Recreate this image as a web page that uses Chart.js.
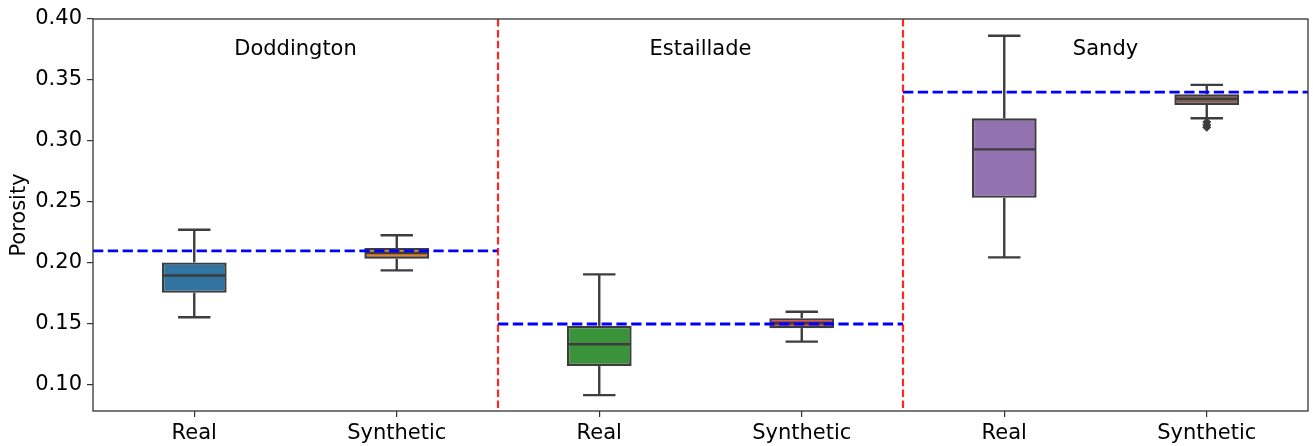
<!DOCTYPE html>
<html>
<head>
<meta charset="utf-8">
<script src="https://cdn.jsdelivr.net/npm/chart.js@4.4.1/dist/chart.umd.min.js"></script>
<style>
  html, body { margin: 0; padding: 0; background: #ffffff; }
  #wrap { width: 1313px; height: 446px; }
</style>
</head>
<body>
<div id="wrap"><canvas id="chart" width="1313" height="446"></canvas></div>
<script>
// Porosity distributions per rock sample, real vs synthetic
const categories = ['Real', 'Synthetic', 'Real', 'Synthetic', 'Real', 'Synthetic'];
const groups = ['Doddington', 'Estaillade', 'Sandy'];

// Five-number summaries for each box
const whiskerLow  = [0.1556, 0.1940, 0.0917, 0.1356, 0.2046, 0.3186];
const q1          = [0.1756, 0.2035, 0.1156, 0.1466, 0.2534, 0.3296];
const median      = [0.1898, 0.2082, 0.1334, 0.1507, 0.2931, 0.3345];
const q3          = [0.2005, 0.2123, 0.1485, 0.1548, 0.3186, 0.3383];
const whiskerHigh = [0.2273, 0.2227, 0.1907, 0.1600, 0.3863, 0.3460];

// Outliers below the lower whisker of Sandy / Synthetic
const sandySyntheticFliers = [0.3155, 0.3132, 0.3112];
const flierIndex = 5;

// Reference porosity of each sample
const referencePorosity = [0.21, 0.15, 0.34];

const yTicks = [0.10, 0.15, 0.20, 0.25, 0.30, 0.35, 0.40];

const boxColors = ['#3274a1', '#e1812c', '#3a923a', '#c03d3e', '#9372b2', '#845b53'];
const edgeColor = '#3d3d3d';
const FONT = 'DejaVu Sans';

const boxPlotExtras = {
  id: 'boxPlotExtras',
  afterDatasetsDraw(chart) {
    const { ctx, chartArea: a, scales: { x, y } } = chart;
    const meta = chart.getDatasetMeta(0);
    const seg = (x0, y0, x1, y1) => { ctx.beginPath(); ctx.moveTo(x0, y0); ctx.lineTo(x1, y1); ctx.stroke(); };

    ctx.save();
    ctx.strokeStyle = edgeColor;
    ctx.lineWidth = 2.4;
    ctx.lineCap = 'butt';
    meta.data.forEach((bar, i) => {
      const cx = bar.x;
      const half = bar.width / 2;
      const cap = half / 2;
      const yLow = y.getPixelForValue(whiskerLow[i]);
      const yHigh = y.getPixelForValue(whiskerHigh[i]);
      const yQ1 = y.getPixelForValue(q1[i]);
      const yQ3 = y.getPixelForValue(q3[i]);
      const yMed = y.getPixelForValue(median[i]);
      seg(cx, yQ1, cx, yLow);
      seg(cx - cap, yLow, cx + cap, yLow);
      seg(cx, yQ3, cx, yHigh);
      seg(cx - cap, yHigh, cx + cap, yHigh);
      seg(cx - half + 1, yMed, cx + half - 1, yMed);
    });

    // boundaries between samples
    const bounds = [a.left];
    for (let k = 1; k < groups.length; k++) {
      bounds.push((x.getPixelForValue(2 * k - 1) + x.getPixelForValue(2 * k)) / 2);
    }
    bounds.push(a.right);

    // reference porosity lines
    ctx.strokeStyle = '#0000ff';
    ctx.lineWidth = 2.8;
    ctx.setLineDash([10.3, 4.5]);
    referencePorosity.forEach((v, k) => {
      const yy = y.getPixelForValue(v);
      seg(bounds[k], yy, bounds[k + 1], yy);
    });

    // sample separators
    ctx.strokeStyle = 'rgba(255,0,0,0.85)';
    ctx.lineWidth = 2.2;
    ctx.setLineDash([7.5, 3.4]);
    for (let k = 1; k < groups.length; k++) {
      seg(bounds[k], a.top, bounds[k], a.bottom);
    }
    ctx.setLineDash([]);

    // sample names
    ctx.fillStyle = '#000000';
    ctx.font = `21px "${FONT}"`;
    ctx.textAlign = 'center';
    ctx.textBaseline = 'middle';
    groups.forEach((g, k) => {
      const cx = (x.getPixelForValue(2 * k) + x.getPixelForValue(2 * k + 1)) / 2;
      ctx.fillText(g, cx, a.top + 31);
    });
    ctx.restore();
  },
  afterDraw(chart) {
    const { ctx, chartArea: a } = chart;
    ctx.save();
    ctx.strokeStyle = '#333333';
    ctx.lineWidth = 1.3;
    ctx.strokeRect(a.left, a.top, a.right - a.left, a.bottom - a.top);
    ctx.restore();
  }
};

const flierDatasets = sandySyntheticFliers.map(v => ({
  type: 'line',
  data: categories.map((_, i) => (i === flierIndex ? v : null)),
  showLine: false,
  pointStyle: 'rectRot',
  pointRadius: 4,
  pointBackgroundColor: edgeColor,
  pointBorderColor: edgeColor,
  pointBorderWidth: 1
}));

new Chart(document.getElementById('chart'), {
  type: 'bar',
  data: {
    labels: categories,
    datasets: [
      {
        data: categories.map((_, i) => [q1[i], q3[i]]),
        backgroundColor: boxColors,
        borderColor: edgeColor,
        borderWidth: 2.4,
        borderSkipped: false,
        categoryPercentage: 1,
        barPercentage: 0.32
      },
      ...flierDatasets
    ]
  },
  options: {
    responsive: false,
    animation: false,
    devicePixelRatio: 1,
    layout: { padding: { top: 19, right: 3, left: 0, bottom: 0 } },
    plugins: { legend: { display: false }, tooltip: { enabled: false } },
    scales: {
      x: {
        offset: true,
        border: { display: false },
        grid: { display: true, drawOnChartArea: false, drawTicks: true, tickLength: 6, color: '#333333', lineWidth: 1.2, offset: false },
        ticks: { color: '#000000', font: { family: FONT, size: 21 }, padding: 4, maxRotation: 0, autoSkip: false },
        afterFit(scale) { scale.height = 35; }
      },
      y: {
        min: 0.0787,
        max: 0.40,
        border: { display: false },
        grid: { display: true, drawOnChartArea: false, drawTicks: true, tickLength: 6, color: '#333333', lineWidth: 1.2 },
        ticks: {
          color: '#000000',
          font: { family: FONT, size: 21 },
          padding: 5,
          callback: v => Number(v).toFixed(2)
        },
        afterBuildTicks(scale) { scale.ticks = yTicks.map(v => ({ value: v })); },
        title: { display: true, text: 'Porosity', color: '#000000', font: { family: FONT, size: 21 }, padding: { top: 7, bottom: 4 } },
        afterFit(scale) { scale.width = 93; }
      }
    }
  },
  plugins: [boxPlotExtras]
});
</script>
</body>
</html>
